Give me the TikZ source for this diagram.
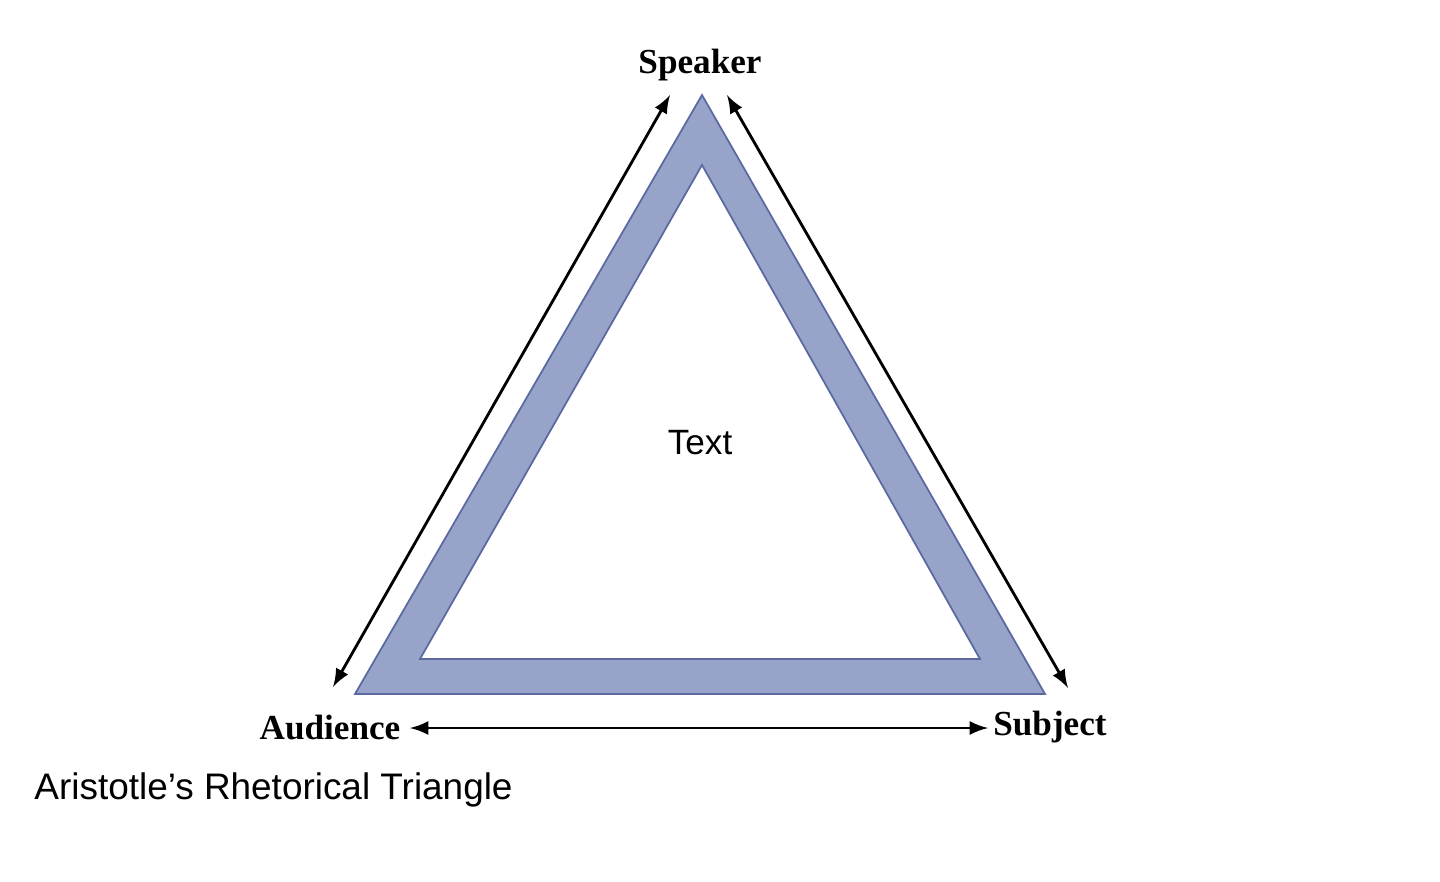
\documentclass[tikz,border=0pt]{standalone}
\usepackage{fontspec}
\setmainfont{Liberation Serif}
\newfontfamily\capfont{Liberation Sans}
\begin{document}
\begin{tikzpicture}[x=0.01cm,y=-0.01cm,
  lbl/.style={font=\fontsize{10pt}{12pt}\selectfont\bfseries},
  arr/.style={<->,>=latex,line width=0.8pt}]
\useasboundingbox (0,0) rectangle (1440,881);
\fill[white] (0,0) rectangle (1440,881);
\fill[fill={rgb,255:red,151;green,163;blue,200},even odd rule,draw={rgb,255:red,90;green,105;blue,160},line width=0.5pt]
  (702,95) -- (1045,694) -- (355,694) -- cycle
  (702,165) -- (980,659) -- (420,659) -- cycle;
\node[lbl] (sp) at (700,65) {Speaker};
\node[lbl] (au) at (330,727) {Audience};
\node[lbl] (su) at (1050,727) {Subject};
\node[font=\capfont\fontsize{10pt}{12pt}\selectfont] (tx) at (700,443) {Text};
\node[font=\capfont\fontsize{10.5pt}{12pt}\selectfont,anchor=west] (cap) at (22,790) {Aristotle’s Rhetorical Triangle};
\coordinate (a1) at (333,687); \coordinate (a2) at (670,95);
\coordinate (b1) at (727,95); \coordinate (b2) at (1068,688);
\coordinate (c1) at (410,728); \coordinate (c2) at (988,728);
\draw[arr] (a1) -- (a2);
\draw[arr] (b1) -- (b2);
\draw[arr] (c1) -- (c2);
\end{tikzpicture}
\end{document}
